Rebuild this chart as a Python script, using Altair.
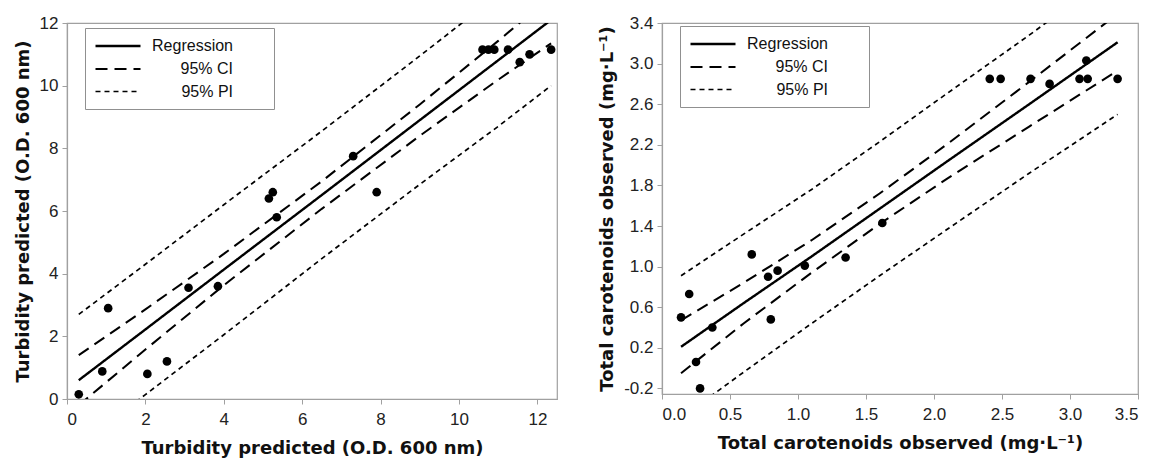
import altair as alt
import pandas as pd

# ---------------- Left panel: turbidity ----------------
turb_x = [0.3, 0.9, 1.05, 2.05, 2.55, 3.1, 3.85, 5.15, 5.25, 5.35, 7.3, 7.9,
          10.6, 10.75, 10.9, 11.25, 11.55, 11.8, 12.35]
turb_y = [0.15, 0.88, 2.9, 0.8, 1.2, 3.55, 3.6, 6.4, 6.6, 5.8, 7.75, 6.6,
          11.15, 11.15, 11.15, 11.15, 10.75, 11.0, 11.15]
turb_line_x = [0.3, 2, 4, 6.5, 9, 11, 12.35]
turb_reg = [0.6, 2.22, 4.13, 6.51, 8.9, 10.81, 12.1]
turb_ci_hi = [1.4, 2.86, 4.63, 6.95, 9.4, 11.43, 12.85]
turb_ci_lo = [-0.2, 1.58, 3.63, 6.07, 8.4, 10.19, 11.35]
turb_pi_hi = [2.7, 4.3, 6.2, 8.55, 10.95, 12.9, 14.2]
turb_pi_lo = [-1.5, 0.14, 2.05, 4.48, 6.85, 8.7, 10.0]
turb_xticks = [0, 2, 4, 6, 8, 10, 12]
turb_yticks = [0, 2, 4, 6, 8, 10, 12]

# ---------------- Right panel: total carotenoids ----------------
car_x = [0.14, 0.2, 0.25, 0.28, 0.37, 0.66, 0.78, 0.8, 0.85, 1.05, 1.35, 1.62,
         2.41, 2.49, 2.71, 2.85, 3.07, 3.13, 3.12, 3.35]
car_y = [0.5, 0.73, 0.06, -0.2, 0.4, 1.12, 0.9, 0.48, 0.96, 1.01, 1.09, 1.43,
         2.85, 2.85, 2.85, 2.8, 2.85, 2.85, 3.03, 2.85]
car_line_x = [0.14, 0.6, 1.1, 1.6, 2.1, 2.7, 3.35]
car_reg = [0.21, 0.64, 1.10, 1.57, 2.04, 2.60, 3.21]
car_ci_hi = [0.47, 0.84, 1.26, 1.72, 2.21, 2.82, 3.49]
car_ci_lo = [-0.05, 0.44, 0.94, 1.42, 1.87, 2.38, 2.93]
car_pi_hi = [0.91, 1.32, 1.76, 2.23, 2.71, 3.28, 3.92]
car_pi_lo = [-0.49, -0.04, 0.44, 0.91, 1.37, 1.92, 2.50]
car_xticks = [0.0, 0.5, 1.0, 1.5, 2.0, 2.5, 3.0, 3.5]
car_yticks = [-0.2, 0.2, 0.6, 1.0, 1.4, 1.8, 2.2, 2.6, 3.0, 3.4]

series_names = ["Regression", "95% CI", "95% PI"]
series_dash = [[1, 0], [12, 7], [5, 4]]
series_width = [2.4, 1.7, 1.7]


def lines_frame(lx, reg, ci_hi, ci_lo, pi_hi, pi_lo):
    rows = []
    for name, part, vals in [("Regression", "mid", reg), ("95% CI", "hi", ci_hi),
                             ("95% CI", "lo", ci_lo), ("95% PI", "hi", pi_hi),
                             ("95% PI", "lo", pi_lo)]:
        for xv, yv in zip(lx, vals):
            rows.append({"x": xv, "y": yv, "series": name, "part": name + part})
    return pd.DataFrame(rows)


LABEL_FMT_NEG = "datum.value < 0 ? '-' + format(-datum.value, '.1f') : format(datum.value, '.1f')"


def panel(px, py, lines_df, xdom, ydom, xticks, yticks, xtitle, ytitle, w, h, fmt_expr, ly):
    xs = alt.Scale(domain=xdom, nice=False, zero=False)
    ys = alt.Scale(domain=ydom, nice=False, zero=False)
    xkw = dict(values=xticks, title=xtitle, labelPadding=7, titlePadding=12)
    ykw = dict(values=yticks, title=ytitle, labelPadding=4, titlePadding=7)
    if fmt_expr:
        xkw["labelExpr"] = fmt_expr
        ykw["labelExpr"] = fmt_expr
    xaxis = alt.Axis(**xkw)
    yaxis = alt.Axis(**ykw)
    leg = alt.Legend(
        orient="none", legendX=18, legendY=ly,
        title="\u2800", titleOrient="right", titlePadding=20, titleFontSize=16,
        symbolType="M-1,0H5", symbolSize=225, symbolStrokeColor="black",
        symbolFillColor="transparent",
        labelAlign="right", labelOffset=121,
        labelFont="Liberation Sans", labelFontSize=16, labelColor="#111",
        padding=9, rowPadding=6, strokeColor="#909090", fillColor="white",
    )
    lines = alt.Chart(lines_df).mark_line(clip=True, color="black").encode(
        x=alt.X("x:Q", scale=xs, axis=xaxis),
        y=alt.Y("y:Q", scale=ys, axis=yaxis),
        strokeDash=alt.StrokeDash("series:N",
                                  scale=alt.Scale(domain=series_names, range=series_dash),
                                  legend=leg),
        strokeWidth=alt.StrokeWidth("series:N",
                                    scale=alt.Scale(domain=series_names, range=series_width),
                                    legend=leg),
        detail="part:N",
    )
    pts = alt.Chart(pd.DataFrame({"x": px, "y": py})).mark_circle(
        size=75, color="black", opacity=1, clip=True
    ).encode(
        x=alt.X("x:Q", scale=xs, axis=xaxis),
        y=alt.Y("y:Q", scale=ys, axis=yaxis),
    )
    return alt.layer(lines, pts).properties(width=w, height=h)


left = panel(turb_x, turb_y,
             lines_frame(turb_line_x, turb_reg, turb_ci_hi, turb_ci_lo, turb_pi_hi, turb_pi_lo),
             [0, 12.5], [0, 12], turb_xticks, turb_yticks,
             "Turbidity predicted (O.D. 600 nm)", "Turbidity predicted (O.D. 600 nm)",
             490, 376, None, 5)

right = panel(car_x, car_y,
              lines_frame(car_line_x, car_reg, car_ci_hi, car_ci_lo, car_pi_hi, car_pi_lo),
              [0, 3.5], [-0.255, 3.4], car_xticks, car_yticks,
              "Total carotenoids observed (mg\u00b7L\u207b\u00b9)",
              "Total carotenoids observed (mg\u00b7L\u207b\u00b9)",
              476, 371, LABEL_FMT_NEG, 3)

chart = alt.hconcat(left, right, spacing=40).resolve_scale(
    strokeDash="independent", strokeWidth="independent"
).resolve_legend(
    strokeDash="independent", strokeWidth="independent"
).configure_view(
    stroke="#a0a0a0", strokeWidth=1.2
).configure_axis(
    grid=False, domainColor="#a0a0a0", domainWidth=1.2, tickColor="#a0a0a0",
    tickSize=5, labelFont="Liberation Sans", labelFontSize=17, labelColor="#222",
    titleFont="DejaVu Sans", titleFontSize=18, titleFontWeight="bold",
    titleColor="#111"
).properties(background="white")

chart.save("out.html", embed_options={"renderer": "svg", "actions": False})
